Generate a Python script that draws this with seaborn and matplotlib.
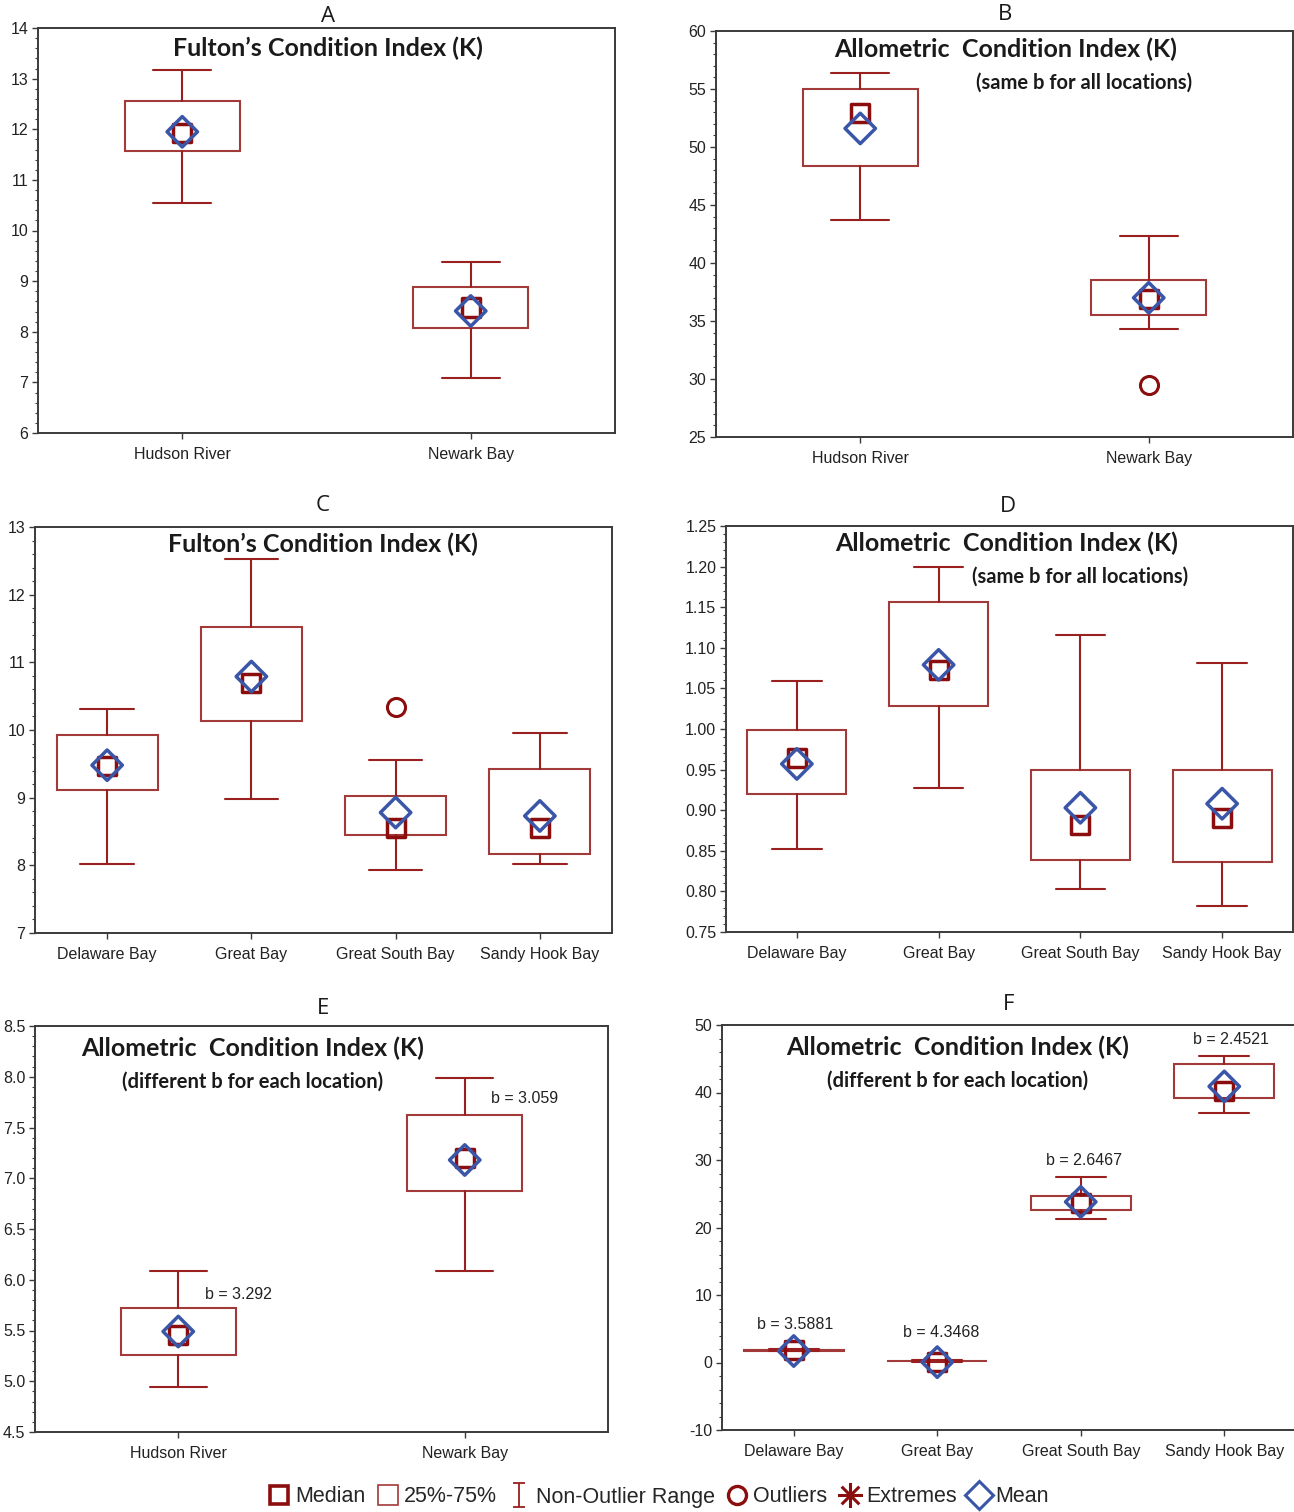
import numpy as np
import matplotlib
matplotlib.use("Agg")
import matplotlib.pyplot as plt
from matplotlib.lines import Line2D
from matplotlib.path import Path
from matplotlib.ticker import AutoMinorLocator, FormatStrFormatter, MultipleLocator
import seaborn as sns

# ---------------------------------------------------------------- data
sites_two = ["Hudson River", "Newark Bay"]
sites_four = ["Delaware Bay", "Great Bay", "Great South Bay", "Sandy Hook Bay"]

# A: Fulton's K, two estuaries
A_lo = [10.54, 7.08]
A_q1 = [11.57, 8.07]
A_med = [11.92, 8.48]
A_mean = [11.95, 8.41]
A_q3 = [12.56, 8.88]
A_hi = [13.17, 9.38]
A_out = [[], []]

# B: allometric K (same b), two estuaries
B_lo = [43.7, 34.3]
B_q1 = [48.4, 35.5]
B_med = [52.9, 36.9]
B_mean = [51.6, 37.0]
B_q3 = [55.0, 38.5]
B_hi = [56.4, 42.3]
B_out = [[], [29.5]]

# C: Fulton's K, four bays
C_lo = [8.02, 8.98, 7.93, 8.02]
C_q1 = [9.12, 10.13, 8.45, 8.17]
C_med = [9.47, 10.70, 8.55, 8.55]
C_mean = [9.48, 10.79, 8.78, 8.73]
C_q3 = [9.93, 11.52, 9.03, 9.43]
C_hi = [10.31, 12.53, 9.56, 9.96]
C_out = [[], [], [10.34], []]

# D: allometric K (same b), four bays
D_lo = [0.852, 0.927, 0.803, 0.782]
D_q1 = [0.920, 1.028, 0.839, 0.836]
D_med = [0.964, 1.073, 0.882, 0.890]
D_mean = [0.957, 1.079, 0.903, 0.908]
D_q3 = [0.999, 1.156, 0.950, 0.950]
D_hi = [1.059, 1.200, 1.116, 1.081]
D_out = [[], [], [], []]

# E: allometric K (different b), two estuaries
E_lo = [4.94, 6.09]
E_q1 = [5.26, 6.87]
E_med = [5.46, 7.20]
E_mean = [5.49, 7.18]
E_q3 = [5.72, 7.62]
E_hi = [6.09, 7.99]
E_out = [[], []]
E_b = ["b = 3.292", "b = 3.059"]
E_b_x = [0.21, 1.21]
E_b_y = [5.85, 7.79]

# F: allometric K (different b), four bays
F_lo = [1.7, 0.1, 21.3, 37.0]
F_q1 = [1.75, 0.15, 22.6, 39.2]
F_med = [1.8, 0.1, 23.6, 40.2]
F_mean = [1.7, 0.05, 23.8, 40.9]
F_q3 = [1.9, 0.25, 24.7, 44.2]
F_hi = [1.95, 0.3, 27.5, 45.4]
F_out = [[], [], [], []]
F_b = ["b = 3.5881", "b = 4.3468", "b = 2.6467", "b = 2.4521"]
F_b_x = [0.01, 1.03, 2.02, 3.05]
F_b_y = [5.7, 4.4, 29.9, 47.8]

# ---------------------------------------------------------------- style
sns.set_theme(style="ticks")
plt.rcParams["font.family"] = ["Liberation Sans", "DejaVu Sans"]

BOX = "#a33a3a"
WHISK = "#9a1f1f"
MED = "#8b0d0d"
MEAN = "#3a56a8"
SPINE = "#3a3a3a"
TITLE_FONT = ["Lato", "DejaVu Sans"]

W, H = 1294, 1512
fig = plt.figure(figsize=(W / 100, H / 100), dpi=100)
fig.patch.set_facecolor("white")


def add_axes_px(x0, y0, x1, y1):
    return fig.add_axes([x0 / W, 1 - y1 / H, (x1 - x0) / W, (y1 - y0) / H])


def panel(ax, labels, lo, q1, med, mean, q3, hi, outl, width, capw,
          ylim, ystep, fmt):
    n = len(labels)
    pos = np.arange(n)
    stats = []
    for i in range(n):
        stats.append(dict(whislo=lo[i], q1=q1[i], med=med[i], q3=q3[i],
                          whishi=hi[i], fliers=np.array(outl[i]),
                          label=labels[i]))
    ax.bxp(stats, positions=pos, widths=width, capwidths=capw,
           showfliers=True, patch_artist=True, manage_ticks=False,
           boxprops=dict(facecolor="white", edgecolor=BOX, linewidth=1.5),
           whiskerprops=dict(color=WHISK, linewidth=1.5),
           capprops=dict(color=WHISK, linewidth=1.5),
           medianprops=dict(linestyle="none"),
           flierprops=dict(marker="o", markerfacecolor="none",
                           markeredgecolor=MED, markersize=13,
                           markeredgewidth=2.2))
    sns.scatterplot(x=pos, y=med, ax=ax, marker="s", s=170,
                    facecolor="none", edgecolor=MED, linewidth=2.5,
                    zorder=5, legend=False)
    sns.scatterplot(x=pos, y=mean, ax=ax, marker="D", s=240,
                    facecolor="none", edgecolor=MEAN, linewidth=2.5,
                    zorder=6, legend=False)
    ax.set_xlim(-0.5, n - 0.5)
    ax.set_ylim(*ylim)
    ax.set_xticks(pos)
    ax.set_xticklabels(labels)
    ax.yaxis.set_major_locator(MultipleLocator(ystep))
    ax.yaxis.set_minor_locator(AutoMinorLocator(5))
    ax.yaxis.set_major_formatter(FormatStrFormatter(fmt))
    ax.tick_params(axis="both", which="major", labelsize=11.5,
                   colors=SPINE, labelcolor="#222222", length=4, width=1,
                   direction="out")
    ax.tick_params(axis="x", which="major", pad=6)
    ax.tick_params(axis="y", which="major", pad=3)
    ax.tick_params(axis="y", which="minor", length=2, width=0.8,
                   colors=SPINE)
    ax.tick_params(axis="x", which="minor", length=0)
    for s in ax.spines.values():
        s.set_visible(True)
        s.set_color(SPINE)
        s.set_linewidth(1.4)
    ax.set_facecolor("white")
    ax.set_xlabel("")
    ax.set_ylabel("")


def title_px(x, y, text, size, bold=True):
    fig.text(x / W, 1 - y / H, text, ha="center", va="center",
             fontsize=size, fontweight="bold" if bold else "normal",
             family=TITLE_FONT, color="#1a1a1a")


def letter_px(x, y, text):
    fig.text(x / W, 1 - y / H, text, ha="center", va="center",
             fontsize=16, color="#1a1a1a", family=["Open Sans", "DejaVu Sans"])


# ---------------------------------------------------------------- panels
axA = add_axes_px(38, 28, 615, 433)
panel(axA, sites_two, A_lo, A_q1, A_med, A_mean, A_q3, A_hi, A_out,
      0.4, 0.2, (6, 14), 1, "%d")
axB = add_axes_px(716, 31, 1293, 437)
panel(axB, sites_two, B_lo, B_q1, B_med, B_mean, B_q3, B_hi, B_out,
      0.4, 0.2, (25, 60), 5, "%d")
axC = add_axes_px(35, 527, 612, 933)
panel(axC, sites_four, C_lo, C_q1, C_med, C_mean, C_q3, C_hi, C_out,
      0.7, 0.37, (7, 13), 1, "%d")
axD = add_axes_px(726, 526, 1293, 932)
panel(axD, sites_four, D_lo, D_q1, D_med, D_mean, D_q3, D_hi, D_out,
      0.7, 0.35, (0.75, 1.25), 0.05, "%.2f")
axE = add_axes_px(35, 1026, 608, 1432)
panel(axE, sites_two, E_lo, E_q1, E_med, E_mean, E_q3, E_hi, E_out,
      0.4, 0.2, (4.5, 8.5), 0.5, "%.1f")
axF = add_axes_px(722, 1025, 1296, 1430)
panel(axF, sites_four, F_lo, F_q1, F_med, F_mean, F_q3, F_hi, F_out,
      0.7, 0.35, (-10, 50), 10, "%d")

# b-exponent annotations
for x, y, t in zip(E_b_x, E_b_y, E_b):
    axE.text(x, y, t, ha="center", va="center", fontsize=11.5,
             color="#222222")
for x, y, t in zip(F_b_x, F_b_y, F_b):
    axF.text(x, y, t, ha="center", va="center", fontsize=11.5,
             color="#222222")

# panel letters
letter_px(328, 16, "A")
letter_px(1005, 15, "B")
letter_px(323, 505, "C")
letter_px(1008, 507, "D")
letter_px(323, 1009, "E")
letter_px(1009, 1005, "F")

# in-panel titles
TS, SS = 18, 14.5
title_px(328, 48, "Fulton’s Condition Index (K)", TS)
title_px(1006, 49, "Allometric  Condition Index (K)", TS)
title_px(1084, 83, "(same b for all locations)", SS)
title_px(323, 544, "Fulton’s Condition Index (K)", TS)
title_px(1007, 543, "Allometric  Condition Index (K)", TS)
title_px(1080, 577, "(same b for all locations)", SS)
title_px(253, 1048, "Allometric  Condition Index (K)", TS)
title_px(253, 1082, "(different b for each location)", SS)
title_px(958, 1047, "Allometric  Condition Index (K)", TS)
title_px(958, 1081, "(different b for each location)", SS)

# ---------------------------------------------------------------- legend
range_marker = Path([(-0.5, -1), (0.5, -1), (0, -1), (0, 1), (-0.5, 1), (0.5, 1)],
                    [Path.MOVETO, Path.LINETO, Path.MOVETO, Path.LINETO,
                     Path.MOVETO, Path.LINETO])
c45 = np.cos(np.pi / 4)
star_marker = Path([(-1, 0), (1, 0), (0, -1), (0, 1), (-c45, -c45), (c45, c45),
                    (-c45, c45), (c45, -c45)],
                   [Path.MOVETO, Path.LINETO] * 4)
handles = [
    Line2D([], [], ls="none", marker="s", ms=13, mfc="none", mec=MED, mew=2.6),
    Line2D([], [], ls="none", marker="s", ms=15, mfc="none", mec=BOX, mew=1.2),
    Line2D([], [], ls="none", marker=range_marker, ms=17, mfc="none",
           mec=WHISK, mew=1.3),
    Line2D([], [], ls="none", marker="o", ms=13, mfc="none", mec=MED, mew=2.4),
    Line2D([], [], ls="none", marker=star_marker, ms=18, mfc="none", mec=MED,
           mew=2.2),
    Line2D([], [], ls="none", marker="D", ms=14, mfc="none", mec=MEAN, mew=2.2),
]
names = ["Median", "25%-75%", "Non-Outlier Range", "Outliers", "Extremes", "Mean"]
fig.legend(handles, names, loc="center", bbox_to_anchor=(659 / W, 1 - 1497 / H),
           ncol=6, frameon=False, fontsize=15.5, handlelength=0.9,
           handletextpad=0.3, columnspacing=0.6, borderpad=0)

fig.savefig("out.png", dpi=100, facecolor="white")
